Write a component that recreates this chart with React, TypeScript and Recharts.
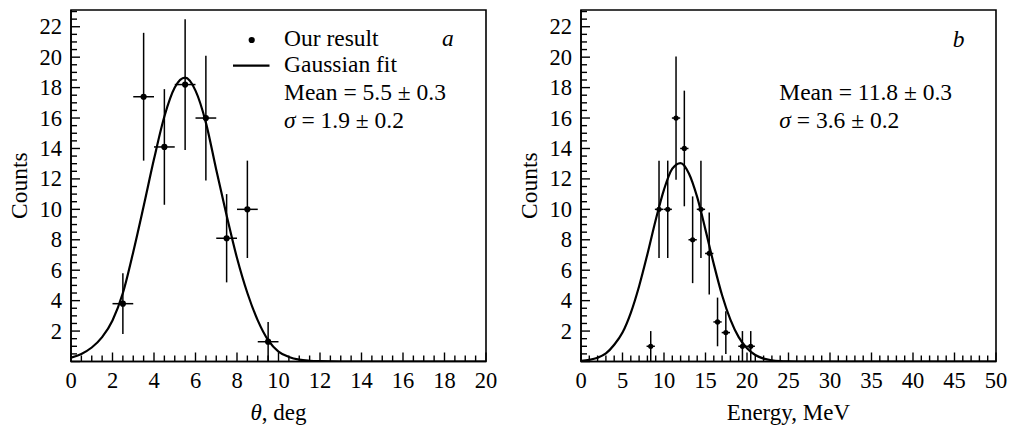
import React from 'react';
import { ComposedChart, Line, Scatter, XAxis, YAxis, ErrorBar, ReferenceArea } from 'recharts';

const FONT = "'Liberation Serif', 'Times New Roman', Times, serif";
const TXT: React.CSSProperties = { fontFamily: FONT };

// ---------- Panel a: angular distribution ----------
const thetaBins = [2.5, 3.5, 4.5, 5.5, 6.5, 7.5, 8.5, 9.5];
const thetaCounts = [3.8, 17.4, 14.1, 18.2, 16.0, 8.1, 10.0, 1.3];
const thetaCountErr = [2.0, 4.2, 3.8, 4.3, 4.1, 2.9, 3.2, 1.3];
const thetaBinErr = [0.5, 0.5, 0.5, 0.5, 0.5, 0.5, 0.5, 0.5];
const thetaFitX = [0, 0.5, 1, 1.5, 2, 2.5, 3, 3.5, 4, 4.5, 5, 5.5, 6, 6.5, 7, 7.5, 8, 8.5, 9, 9.5, 10, 10.5, 11, 11.5, 12, 13, 14, 16, 18, 20];
const thetaFitY = [0.25, 0.5, 0.92, 1.6, 2.7, 4.5, 7.2, 10.2, 13.3, 16.1, 18.0, 18.65, 17.8, 15.7, 12.6, 9.6, 6.8, 4.5, 2.7, 1.4, 0.65, 0.3, 0.12, 0.05, 0.02, 0, 0, 0, 0, 0];
const thetaTickLabels = [0, 2, 4, 6, 8, 10, 12, 14, 16, 18, 20];

// ---------- Panel b: energy distribution ----------
const energyBins = [8.4, 9.4, 10.45, 11.45, 12.45, 13.45, 14.45, 15.45, 16.45, 17.45, 19.45, 20.45];
const energyCounts = [1, 10, 10, 16, 14, 8, 10, 7.1, 2.6, 1.9, 1, 1];
const energyCountErr = [1, 3.2, 3.2, 4.05, 3.8, 2.85, 3.2, 2.7, 1.6, 1.4, 1, 1];
const energyBinErr = [0.5, 0.5, 0.5, 0.5, 0.5, 0.5, 0.5, 0.5, 0.5, 0.5, 0.5, 0.5];
const energyFitX = [0, 1, 2, 3, 4, 5, 6, 7, 8, 9, 10, 11, 12, 13, 14, 15, 16, 17, 18, 19, 20, 21, 22, 23, 24, 25, 26, 30, 40, 50];
const energyFitY = [0.04, 0.11, 0.25, 0.53, 1.1, 1.9, 3.2, 4.95, 7.05, 9.3, 11.3, 12.67, 13.04, 12.36, 10.8, 8.65, 6.4, 4.35, 2.75, 1.6, 0.87, 0.43, 0.19, 0.08, 0.03, 0.01, 0, 0, 0, 0];
const energyTickLabels = [0, 5, 10, 15, 20, 25, 30, 35, 40, 45, 50];

const countTickLabels = [2, 4, 6, 8, 10, 12, 14, 16, 18, 20, 22];
const countTicks = Array.from({ length: 47 }, (_, i) => i * 0.5);
const thetaTicks = Array.from({ length: 41 }, (_, i) => i * 0.5);
const energyTicks = Array.from({ length: 51 }, (_, i) => i);

const Y_MAX = 23.1;

const toPoints = (xs: number[], ys: number[], ey: number[], ex: number[]) =>
  xs.map((x, i) => ({ x, y: ys[i], ey: ey[i], ex: ex[i] }));
const toCurve = (xs: number[], ys: number[]) => xs.map((x, i) => ({ x, y: ys[i] }));

const MAJOR = 9;
const MINOR = 6;

const makeXTick = (labels: number[]) => (props: any) => {
  const { x, y, payload } = props;
  const v = payload.value;
  const major = labels.some((l) => Math.abs(l - v) < 1e-6);
  return (
    <g>
      <line x1={x} x2={x} y1={y} y2={y - (major ? MAJOR : MINOR)} stroke="#000" strokeWidth={1.4} />
      {major && (
        <text x={x} y={y + 26.5} textAnchor="middle" style={TXT} fontSize={22.5} fill="#000">
          {v}
        </text>
      )}
    </g>
  );
};

const makeYTick = (labels: number[]) => (props: any) => {
  const { x, y, payload } = props;
  const v = payload.value;
  const labelled = labels.some((l) => Math.abs(l - v) < 1e-6);
  const major = labelled || Math.abs(v) < 1e-6;
  return (
    <g>
      <line x1={x} x2={x + (major ? MAJOR : MINOR)} y1={y} y2={y} stroke="#000" strokeWidth={1.4} />
      {labelled && (
        <text x={x - 9} y={y + 7.5} textAnchor="end" style={TXT} fontSize={22.5} fill="#000">
          {v}
        </text>
      )}
    </g>
  );
};

const makeDot = (r: number) => (props: any) => {
  const { cx, cy } = props;
  if (cx == null || cy == null) return <g />;
  return <circle cx={cx} cy={cy} r={r} fill="#000" />;
};

type PanelProps = {
  left: number;
  points: { x: number; y: number; ey: number; ex: number }[];
  curve: { x: number; y: number }[];
  xMax: number;
  xTicks: number[];
  xLabels: number[];
  dotR: number;
  children?: React.ReactNode;
};

const W = 500;
const H = 428;

function Panel({ left, points, curve, xMax, xTicks, xLabels, dotR, children }: PanelProps) {
  return (
    <div style={{ position: 'absolute', left, top: 0, width: W, height: H }}>
      <ComposedChart width={W} height={H} margin={{ top: 10, right: 14, bottom: 26.5, left: 31 }}>
        <XAxis
          dataKey="x"
          type="number"
          domain={[0, xMax]}
          ticks={xTicks}
          interval={0}
          allowDataOverflow
          height={40}
          tickSize={0}
          tickMargin={0}
          tickLine={false}
          axisLine={{ stroke: '#000', strokeWidth: 1.6 }}
          tick={makeXTick(xLabels)}
        />
        <YAxis
          type="number"
          domain={[0, Y_MAX]}
          ticks={countTicks}
          interval={0}
          allowDataOverflow
          width={40}
          tickSize={0}
          tickMargin={0}
          tickLine={false}
          axisLine={{ stroke: '#000', strokeWidth: 1.6 }}
          tick={makeYTick(countTickLabels)}
        />
        <ReferenceArea
          x1={0}
          x2={xMax}
          y1={0}
          y2={Y_MAX}
          fill="none"
          fillOpacity={0}
          stroke="#000"
          strokeWidth={1.6}
          ifOverflow="visible"
        />
        <Line
          data={curve}
          dataKey="y"
          type="monotone"
          dot={false}
          activeDot={false}
          stroke="#000"
          strokeWidth={2.2}
          isAnimationActive={false}
        />
        <Scatter data={points} dataKey="y" shape={makeDot(dotR)} isAnimationActive={false}>
          <ErrorBar dataKey="ey" direction="y" width={0} stroke="#000" strokeWidth={1.5} />
          <ErrorBar dataKey="ex" direction="x" width={0} stroke="#000" strokeWidth={1.5} />
        </Scatter>
      </ComposedChart>
      <svg
        width={W}
        height={H}
        style={{ position: 'absolute', left: 0, top: 0, pointerEvents: 'none', fontFamily: FONT }}
      >
        <text x={26.5} y={185.75} transform="rotate(-90 26.5 185.75)" textAnchor="middle" style={TXT} fontSize={23.5} fill="#000">
          Counts
        </text>
        {children}
      </svg>
    </div>
  );
}

export default function App() {
  const thetaPoints = toPoints(thetaBins, thetaCounts, thetaCountErr, thetaBinErr);
  const energyPoints = toPoints(energyBins, energyCounts, energyCountErr, energyBinErr);
  return (
    <div style={{ position: 'absolute', left: 0, top: 0, width: 1011, height: 428, background: '#fff', fontFamily: FONT }}>
      <Panel
        left={0}
        points={thetaPoints}
        curve={toCurve(thetaFitX, thetaFitY)}
        xMax={20}
        xTicks={thetaTicks}
        xLabels={thetaTickLabels}
        dotR={3.1}
      >
        <text x={278.5} y={419.5} textAnchor="middle" style={TXT} fontSize={23} fill="#000">
          <tspan fontStyle="italic">θ</tspan>, deg
        </text>
        <circle cx={251.7} cy={40} r={3.1} fill="#000" />
        <line x1={233} x2={269.5} y1={65.7} y2={65.7} stroke="#000" strokeWidth={2.2} />
        <text x={284} y={46} style={TXT} fontSize={23.5} fill="#000">Our result</text>
        <text x={284} y={72} style={TXT} fontSize={23.5} fill="#000">Gaussian fit</text>
        <text x={284} y={100} style={TXT} fontSize={23.5} fill="#000">Mean = 5.5 ± 0.3</text>
        <text x={284} y={128.3} style={TXT} fontSize={23.5} fill="#000">
          <tspan fontStyle="italic">σ</tspan> = 1.9 ± 0.2
        </text>
        <text x={442} y={46} style={TXT} fontSize={23.5} fontStyle="italic" fill="#000">a</text>
      </Panel>
      <Panel
        left={510}
        points={energyPoints}
        curve={toCurve(energyFitX, energyFitY)}
        xMax={50}
        xTicks={energyTicks}
        xLabels={energyTickLabels}
        dotR={2.6}
      >
        <text x={278.5} y={419.5} textAnchor="middle" style={TXT} fontSize={23} fill="#000">
          Energy, MeV
        </text>
        <text x={269.3} y={99.5} style={TXT} fontSize={23.5} fill="#000">Mean = 11.8 ± 0.3</text>
        <text x={269.3} y={128.3} style={TXT} fontSize={23.5} fill="#000">
          <tspan fontStyle="italic">σ</tspan> = 3.6 ± 0.2
        </text>
        <text x={442.7} y={46.7} style={TXT} fontSize={23.5} fontStyle="italic" fill="#000">b</text>
      </Panel>
    </div>
  );
}
